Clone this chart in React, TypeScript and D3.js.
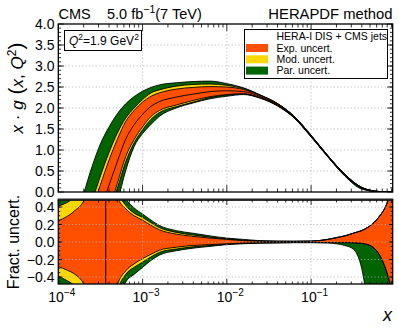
import React, { useEffect, useRef } from 'react';
import * as d3 from 'd3';

// upper panel: x*g(x,Q2) at Q2 = 1.9 GeV2, central value and cumulative band edges
const xGluon = [1.58e-4, 2.0e-4, 2.51e-4, 3.16e-4, 3.98e-4, 5.01e-4, 6.31e-4, 7.94e-4, 1.0e-3, 1.26e-3, 1.58e-3, 2.51e-3, 3.98e-3, 6.31e-3, 1.0e-2, 1.58e-2, 2.51e-2, 3.98e-2, 6.31e-2, 0.1, 0.158, 0.251, 0.398, 0.631, 0.93];
const gCentral = [-2.4, -1.7, -1.02, -0.42, 0.15, 0.72, 1.26, 1.6, 1.85, 2.04, 2.15, 2.26, 2.33, 2.39, 2.41, 2.39, 2.27, 2.08, 1.78, 1.33, 0.85, 0.4, 0.1, 0.01, 0.0];
const gParUp = [-0.7, -0.04, 0.6, 1.145, 1.54, 1.86, 2.1, 2.27, 2.4, 2.49, 2.55, 2.6, 2.63, 2.64, 2.58, 2.48, 2.31, 2.11, 1.8, 1.35, 0.867, 0.424, 0.111, 0.013, 0.001];
const gModUp = [-1.55, -0.85, -0.23, 0.38, 0.93, 1.4, 1.76, 2.0, 2.2, 2.36, 2.43, 2.52, 2.56, 2.57, 2.54, 2.46, 2.3, 2.105, 1.8, 1.35, 0.867, 0.424, 0.111, 0.013, 0.001];
const gExpUp = [-1.75, -1.1, -0.45, 0.17, 0.75, 1.25, 1.68, 1.94, 2.14, 2.28, 2.36, 2.45, 2.49, 2.51, 2.5, 2.44, 2.3, 2.105, 1.8, 1.35, 0.867, 0.424, 0.111, 0.013, 0.001];
const gExpDn = [-3.0, -2.3, -1.6, -1.0, -0.45, 0.2, 0.84, 1.25, 1.55, 1.8, 1.94, 2.07, 2.18, 2.27, 2.32, 2.34, 2.24, 2.06, 1.765, 1.32, 0.844, 0.397, 0.098, 0.0085, 0.0];
const gModDn = [-3.1, -2.4, -1.7, -1.1, -0.55, 0.08, 0.72, 1.17, 1.48, 1.73, 1.89, 2.03, 2.14, 2.25, 2.31, 2.33, 2.24, 2.06, 1.765, 1.32, 0.844, 0.397, 0.098, 0.0085, 0.0];
const gParDn = [-3.5, -2.8, -2.1, -1.4, -0.8, -0.25, 0.51, 1.08, 1.39, 1.61, 1.8, 2.0, 2.12, 2.22, 2.28, 2.32, 2.23, 2.05, 1.76, 1.31, 0.834, 0.38, 0.07, 0.004, 0.0];

// lower panel: fractional uncertainties (clipped by the frame)
const xFrac = [1.0e-4, 1.26e-4, 1.58e-4, 2.0e-4, 2.51e-4, 3.16e-4, 3.47e-4, 3.8e-4, 4.47e-4, 5.01e-4, 6.31e-4, 7.94e-4, 1.0e-3, 1.26e-3, 1.58e-3, 2.51e-3, 3.98e-3, 6.31e-3, 1.0e-2, 1.58e-2, 2.51e-2, 3.98e-2, 6.31e-2, 0.1, 0.158, 0.2, 0.251, 0.316, 0.355, 0.398, 0.447, 0.501, 0.631, 0.794, 0.93];
const fParUp = [0.6, 0.7, 0.85, 1.1, 1.8, 4, 14, 14, 2, 0.75, 0.5, 0.39, 0.32, 0.25, 0.19, 0.13, 0.1, 0.07, 0.045, 0.03, 0.015, 0.01, 0.008, 0.01, 0.03, 0.05, 0.07, 0.1, 0.115, 0.13, 0.155, 0.185, 0.28, 0.44, 0.65];
const fModUp = [0.41, 0.45, 0.52, 0.7, 1.1, 2.8, 12, 12, 1.5, 0.6, 0.42, 0.33, 0.28, 0.22, 0.165, 0.11, 0.08, 0.055, 0.035, 0.02, 0.012, 0.008, 0.008, 0.01, 0.03, 0.05, 0.07, 0.1, 0.115, 0.13, 0.155, 0.185, 0.28, 0.44, 0.65];
const fExpUp = [0.243, 0.29, 0.36, 0.47, 0.75, 2.0, 10, 10, 1.2, 0.52, 0.38, 0.3, 0.25, 0.19, 0.14, 0.09, 0.065, 0.045, 0.03, 0.015, 0.01, 0.008, 0.008, 0.01, 0.03, 0.05, 0.07, 0.1, 0.115, 0.13, 0.155, 0.185, 0.28, 0.44, 0.65];
const fExpDn = [-0.28, -0.32, -0.37, -0.48, -0.75, -2.0, -10, -10, -1.2, -0.5, -0.33, -0.25, -0.19, -0.14, -0.095, -0.06, -0.04, -0.03, -0.02, -0.012, -0.01, -0.008, -0.006, -0.006, -0.006, -0.007, -0.008, -0.01, -0.012, -0.015, -0.025, -0.04, -0.13, -0.35, -0.6];
const fModDn = [-0.39, -0.44, -0.51, -0.7, -1.1, -2.8, -12, -12, -1.5, -0.58, -0.37, -0.29, -0.23, -0.17, -0.12, -0.08, -0.055, -0.04, -0.025, -0.015, -0.01, -0.008, -0.006, -0.006, -0.006, -0.007, -0.008, -0.01, -0.012, -0.015, -0.025, -0.04, -0.13, -0.35, -0.6];
const fParDn = [-0.6, -0.7, -0.85, -1.1, -1.8, -4, -14, -14, -2, -0.75, -0.46, -0.37, -0.29, -0.21, -0.15, -0.1, -0.07, -0.05, -0.03, -0.02, -0.012, -0.01, -0.008, -0.008, -0.012, -0.02, -0.04, -0.08, -0.15, -0.3, -0.6, -1.2, -3, -3, -3];
const zeroCrossing = 3.66e-4;

const yTicksTop = [0, 0.5, 1, 1.5, 2, 2.5, 3, 3.5, 4];
const yTicksBot = [-0.4, -0.2, 0, 0.2, 0.4];
const xDecades = [1e-4, 1e-3, 1e-2, 1e-1];
const xDecadeExp = ['−4', '−3', '−2', '−1'];

const legendHeader = 'HERA-I DIS + CMS jets';
const legendLabels = ['Exp. uncert.', 'Mod. uncert.', 'Par. uncert.'];
const bandColors = ['#ff4f00', '#ffd700', '#006400'];

const App = () => {
  const svgRef = useRef<SVGSVGElement>(null);

  useEffect(() => {
    const svg = d3.select(svgRef.current);
    svg.selectAll('*').remove();
    const font = "'Liberation Sans', Arial, Helvetica, sans-serif";

    const L = 58.3, R = 392.7;
    const x = d3.scaleLog().domain([1e-4, 0.93]).range([L, R]);
    const yTop = d3.scaleLinear().domain([0, 4]).range([192, 24]);
    const yBot = d3.scaleLinear().domain([-0.48, 0.48]).range([284, 200]);

    const defs = svg.append('defs');
    defs.append('clipPath').attr('id', 'clipTop').append('rect')
      .attr('x', L).attr('y', 24).attr('width', R - L).attr('height', 168);
    defs.append('clipPath').attr('id', 'clipBot').append('rect')
      .attr('x', L).attr('y', 200).attr('width', R - L).attr('height', 84);

    const minorX: number[] = [];
    [-4, -3, -2, -1].forEach(p => {
      for (let k = 2; k <= 9; k++) {
        const v = k * Math.pow(10, p);
        if (v < 0.93) minorX.push(v);
      }
    });

    const grid = (g, y, yTicks, y0, y1) => {
      const gg = g.append('g').attr('stroke', '#b0b0b0').attr('stroke-width', 0.8).attr('stroke-dasharray', '1.2,2.2');
      xDecades.slice(1).forEach(d => {
        gg.append('line').attr('x1', x(d)).attr('x2', x(d)).attr('y1', y0).attr('y2', y1);
      });
      yTicks.forEach(t => {
        if (y(t) <= y0 + 1 || y(t) >= y1 - 1) return;
        gg.append('line').attr('x1', L).attr('x2', R).attr('y1', y(t)).attr('y2', y(t));
      });
    };

    const drawBands = (g, xs, edges, y) => {
      // edges: [parDn, parUp, modDn, modUp, expDn, expUp]
      const area = (lo: number[], hi: number[]) => d3.area<number>()
        .x(d => x(d)).y0((_, i) => y(lo[i])).y1((_, i) => y(hi[i]))
        .curve(d3.curveMonotoneX)(xs);
      g.append('path').attr('d', area(edges[0], edges[1])).attr('fill', bandColors[2]);
      g.append('path').attr('d', area(edges[2], edges[3])).attr('fill', bandColors[1]);
      g.append('path').attr('d', area(edges[4], edges[5])).attr('fill', bandColors[0]);
      edges.forEach(e => {
        const line = d3.line<number>().x(d => x(d)).y((_, i) => y(e[i])).curve(d3.curveMonotoneX);
        g.append('path').attr('d', line(xs)).attr('fill', 'none').attr('stroke', '#000').attr('stroke-width', 0.9);
      });
    };

    const ticks = (y, majors: number[], minors: number[], y0, y1, len) => {
      const g = svg.append('g').attr('stroke', '#000').attr('stroke-width', 0.8);
      xDecades.forEach(d => {
        g.append('line').attr('x1', x(d)).attr('x2', x(d)).attr('y1', y1).attr('y2', y1 - len);
        g.append('line').attr('x1', x(d)).attr('x2', x(d)).attr('y1', y0).attr('y2', y0 + len);
      });
      minorX.forEach(d => {
        g.append('line').attr('x1', x(d)).attr('x2', x(d)).attr('y1', y1).attr('y2', y1 - len / 2);
        g.append('line').attr('x1', x(d)).attr('x2', x(d)).attr('y1', y0).attr('y2', y0 + len / 2);
      });
      majors.forEach(t => {
        g.append('line').attr('x1', L).attr('x2', L + len * 0.8).attr('y1', y(t)).attr('y2', y(t));
        g.append('line').attr('x1', R).attr('x2', R - len * 0.8).attr('y1', y(t)).attr('y2', y(t));
      });
      minors.forEach(t => {
        g.append('line').attr('x1', L).attr('x2', L + len * 0.4).attr('y1', y(t)).attr('y2', y(t));
        g.append('line').attr('x1', R).attr('x2', R - len * 0.4).attr('y1', y(t)).attr('y2', y(t));
      });
    };

    // upper panel
    grid(svg, yTop, yTicksTop, 24, 192);
    const gTop = svg.append('g').attr('clip-path', 'url(#clipTop)');
    drawBands(gTop, xGluon, [gParDn, gParUp, gModDn, gModUp, gExpDn, gExpUp], yTop);
    gTop.append('path')
      .attr('d', d3.line<number>().x(d => x(d)).y((_, i) => yTop(gCentral[i])).curve(d3.curveMonotoneX)(xGluon))
      .attr('fill', 'none').attr('stroke', '#000').attr('stroke-width', 0.9);
    svg.append('rect').attr('x', L).attr('y', 24).attr('width', R - L).attr('height', 168)
      .attr('fill', 'none').attr('stroke', '#000').attr('stroke-width', 1.3);
    ticks(yTop, yTicksTop, d3.range(0.1, 4, 0.1), 24, 192, 7);

    // lower panel
    const gBot = svg.append('g').attr('clip-path', 'url(#clipBot)');
    drawBands(gBot, xFrac, [fParDn, fParUp, fModDn, fModUp, fExpDn, fExpUp], yBot);
    gBot.append('line').attr('x1', x(zeroCrossing)).attr('x2', x(zeroCrossing))
      .attr('y1', 200).attr('y2', 284).attr('stroke', '#000').attr('stroke-width', 1);
    grid(svg, yBot, yTicksBot, 200, 284);
    svg.append('rect').attr('x', L).attr('y', 200).attr('width', R - L).attr('height', 84)
      .attr('fill', 'none').attr('stroke', '#000').attr('stroke-width', 1.3);
    svg.append('line').attr('x1', L - 0.6).attr('x2', R + 0.6).attr('y1', 199.6).attr('y2', 199.6)
      .attr('stroke', '#222').attr('stroke-width', 2.2);
    ticks(yBot, yTicksBot, d3.range(-0.45, 0.46, 0.05).filter(v => Math.abs(v) < 0.47), 200, 284, 5);

    // tick labels
    const lab = svg.append('g').attr('font-family', font).attr('font-size', 14).attr('fill', '#000');
    yTicksTop.forEach(t => {
      lab.append('text').attr('x', 54.5).attr('y', yTop(t) + 5).attr('text-anchor', 'end').text(d3.format('.1f')(t));
    });
    yTicksBot.forEach(t => {
      lab.append('text').attr('x', 54.5).attr('y', yBot(t) + 5).attr('text-anchor', 'end').text(d3.format('.1f')(t));
    });
    xDecades.forEach((d, i) => {
      const t = lab.append('text').attr('x', x(d) + 3.5).attr('y', 301.5).attr('text-anchor', 'middle');
      t.append('tspan').text('10');
      t.append('tspan').attr('dy', -6).attr('font-size', 10).text(xDecadeExp[i]);
    });

    // axis titles
    const yt = svg.append('text').attr('font-family', font).attr('font-size', 17)
      .attr('transform', 'translate(23,88) rotate(-90)').attr('text-anchor', 'middle');
    yt.append('tspan').attr('font-style', 'italic').text('x');
    yt.append('tspan').text(' · ');
    yt.append('tspan').attr('font-style', 'italic').text('g');
    yt.append('tspan').attr('font-size', 21).text(' (');
    yt.append('tspan').attr('font-style', 'italic').text('x');
    yt.append('tspan').text(', ');
    yt.append('tspan').attr('font-style', 'italic').text('Q');
    yt.append('tspan').attr('dy', -7).attr('font-size', 12).text('2');
    yt.append('tspan').attr('dy', 7).attr('font-size', 21).text(')');

    svg.append('text').attr('font-family', font).attr('font-size', 16)
      .attr('transform', 'translate(19,242) rotate(-90)').attr('text-anchor', 'middle')
      .text('Fract. uncert.');

    svg.append('text').attr('font-family', font).attr('font-size', 18).attr('font-style', 'italic')
      .attr('x', 392).attr('y', 321).attr('text-anchor', 'end').text('x');

    // header texts
    const hdr = svg.append('g').attr('font-family', font).attr('font-size', 14.5);
    hdr.append('text').attr('x', 58.5).attr('y', 18.5).text('CMS');
    const lumi = hdr.append('text').attr('x', 107).attr('y', 18.5);
    lumi.append('tspan').text('5.0 fb');
    lumi.append('tspan').attr('dy', -5.5).attr('font-size', 10.5).text('−1');
    lumi.append('tspan').attr('dy', 5.5).text('(7 TeV)');
    hdr.append('text').attr('x', 392.5).attr('y', 18.5).attr('text-anchor', 'end').attr('font-size', 14.8).text('HERAPDF method');

    // Q2 box
    svg.append('rect').attr('x', 64.5).attr('y', 30.5).attr('width', 77).attr('height', 20)
      .attr('fill', '#fff').attr('stroke', '#000').attr('stroke-width', 1);
    const q = svg.append('text').attr('font-family', font).attr('font-size', 12).attr('x', 69).attr('y', 45);
    q.append('tspan').attr('font-style', 'italic').text('Q');
    q.append('tspan').attr('dy', -5).attr('font-size', 8.5).text('2');
    q.append('tspan').attr('dy', 5).text('=1.9 GeV');
    q.append('tspan').attr('dy', -5).attr('font-size', 8.5).text('2');

    // legend
    svg.append('rect').attr('x', 244.5).attr('y', 29.5).attr('width', 143).attr('height', 49)
      .attr('fill', '#fff').attr('stroke', '#000').attr('stroke-width', 1);
    const leg = svg.append('g').attr('font-family', font).attr('font-size', 10.5);
    leg.append('text').attr('x', 276.5).attr('y', 39.5).text(legendHeader);
    legendLabels.forEach((s, i) => {
      const cy = 48 + i * 11.3;
      leg.append('rect').attr('x', 246).attr('y', cy - 4).attr('width', 22).attr('height', 8).attr('fill', bandColors[i]);
      leg.append('text').attr('x', 276.5).attr('y', cy + 3.8).text(s);
    });
  }, []);

  return (
    <svg ref={svgRef} width={399} height={332}
      style={{ position: 'absolute', left: 0, top: 0, background: '#fff' }} />
  );
};

export default App;
